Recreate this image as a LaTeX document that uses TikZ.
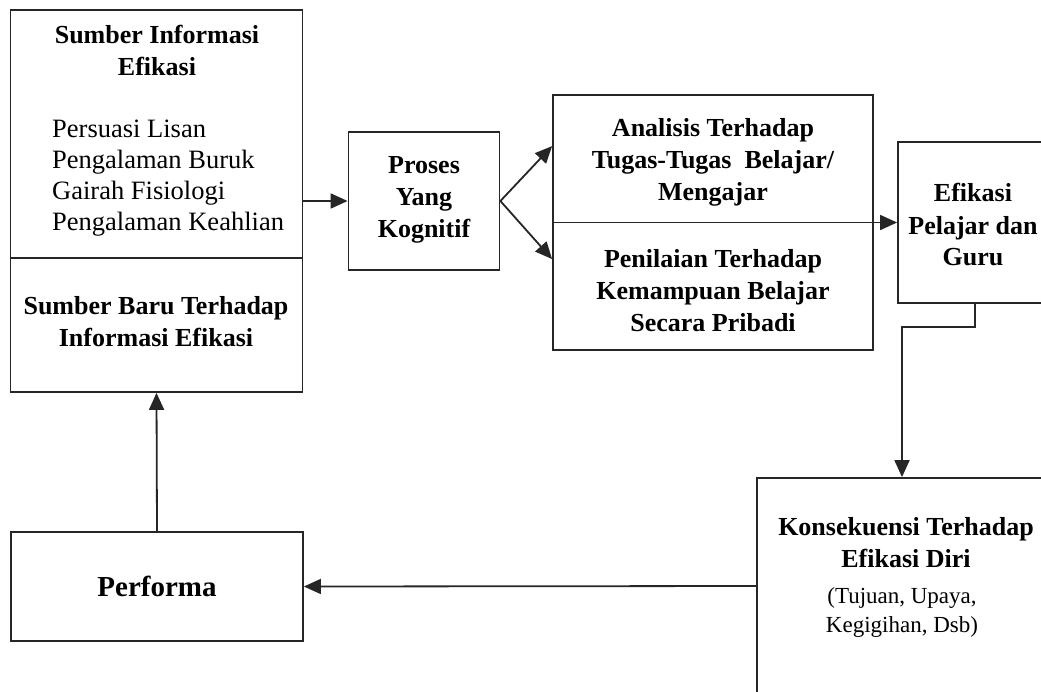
\documentclass[tikz,border=0pt]{standalone}
\usepackage{fontspec}
\setmainfont{Liberation Serif}
\usetikzlibrary{arrows.meta,calc}
\tikzset{
  box/.style={draw=black!85, line width=1.8pt, inner sep=0pt},
  conn/.style={draw=black!85, line width=1.8pt},
  arr/.style={conn, -{Triangle[length=17pt,width=15pt]}},
  ttl/.style={inner sep=0pt, align=center, font={\fontsize{26}{32}\selectfont\bfseries}},
  txt/.style={inner sep=0pt, font={\fontsize{26.5}{31}\selectfont}},
}
\begin{document}
\begin{tikzpicture}[x=1pt,y=-1pt]
\useasboundingbox (0,0) rectangle (1041,691);
\fill[white] (0,0) rectangle (1041,691);
\clip (0,0) rectangle (1041,691);
% boxes
\node[box, minimum width=292pt, minimum height=382pt] (src) at (156.5,201) {};
\node[box, minimum width=151pt, minimum height=138pt] (pro) at (424,201) {};
\node[box, minimum width=320pt, minimum height=255pt] (mid) at (713,222.5) {};
\node[box, minimum width=154pt, minimum height=161pt] (efk) at (975,222.5) {};
\node[box, minimum width=290pt, minimum height=216pt] (kon) at (902,586) {};
\node[box, minimum width=292pt, minimum height=109pt] (perf) at (157,586.5) {};
% dividers
\coordinate (srcL) at ($(src.north west)+(0,249)$);
\coordinate (srcR) at ($(src.north east)+(0,249)$);
\draw[conn] (srcL) -- (srcR);
\draw[conn] (mid.west) -- (mid.east);
% texts
\node[ttl] (t1) at (157,50) {Sumber Informasi\\Efikasi};
\node[txt, anchor=west, align=left] (t1l) at (52,178) {Persuasi Lisan\\Pengalaman Buruk\\Gairah Fisiologi\\Pengalaman Keahlian};
\node[ttl] (t2) at (156,322) {Sumber Baru Terhadap\\Informasi Efikasi};
\node[ttl] (tp) at (424,200) {Proses\\Yang\\Kognitif};
\node[ttl] (ta) at (713,162) {Analisis Terhadap\\Tugas-Tugas\ \ Belajar/\\Mengajar};
\node[ttl] (tn) at (713,291) {Penilaian Terhadap\\Kemampuan Belajar\\Secara Pribadi};
\node[ttl] (te) at (973,225) {Efikasi\\Pelajar dan\\Guru};
\node[ttl] (tk) at (906,543) {Konsekuensi Terhadap\\Efikasi Diri};
\node[txt, align=center, font={\fontsize{23}{29}\selectfont}] (tk2) at (902,612) {(Tujuan, Upaya,\\Kegigihan, Dsb)};
\node[ttl, font={\fontsize{29}{34}\selectfont\bfseries}] (tpf) at (157,586) {Performa};
% connectors
\coordinate (fa) at ($(mid.north west)+(0,52)$);
\coordinate (fb) at ($(mid.north west)+(0,165)$);
\draw[arr] (src.east) -- (pro.west);
\draw[arr] (pro.east) -- (fa);
\draw[arr] (pro.east) -- (fb);
\draw[arr] (mid.east) -- (efk.west);
\draw[arr] (efk.south) -- ++(0,23) -| (kon.north);
\draw[arr] (kon.west) -- (perf.east);
\draw[arr] (perf.north) -- (src.south);
\end{tikzpicture}
\end{document}
